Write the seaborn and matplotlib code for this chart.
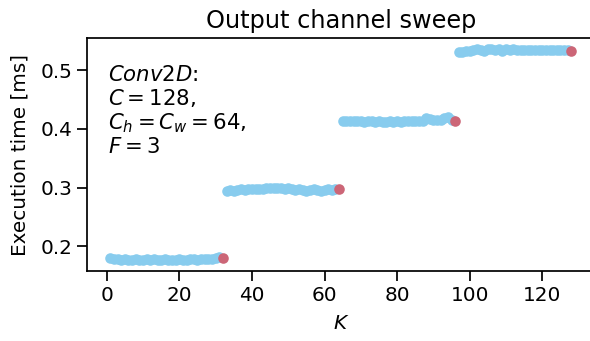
import matplotlib
matplotlib.use("Agg")
import matplotlib.pyplot as plt
import seaborn as sns
import numpy as np
import pandas as pd

K = list(range(1, 129))
time_g1 = [0.180, 0.179, 0.178, 0.177, 0.178, 0.176, 0.177, 0.178, 0.177, 0.176,
           0.178, 0.177, 0.178, 0.177, 0.176, 0.178, 0.177, 0.176, 0.177, 0.178,
           0.177, 0.176, 0.178, 0.179, 0.177, 0.178, 0.179, 0.178, 0.179, 0.180,
           0.181, 0.180]
time_g2 = [0.295, 0.296, 0.295, 0.296, 0.297, 0.296, 0.297, 0.298, 0.297, 0.298,
           0.297, 0.299, 0.300, 0.299, 0.300, 0.299, 0.298, 0.299, 0.297, 0.296,
           0.297, 0.296, 0.295, 0.296, 0.297, 0.296, 0.295, 0.296, 0.297, 0.296,
           0.297, 0.298]
time_g3 = [0.413, 0.414, 0.413, 0.414, 0.413, 0.413, 0.412, 0.413, 0.413, 0.412,
           0.413, 0.412, 0.412, 0.413, 0.412, 0.413, 0.412, 0.413, 0.413, 0.414,
           0.413, 0.414, 0.414, 0.419, 0.417, 0.416, 0.415, 0.416, 0.418, 0.420,
           0.416, 0.414]
time_g4 = [0.532, 0.532, 0.533, 0.533, 0.534, 0.536, 0.534, 0.533, 0.536, 0.537,
           0.534, 0.536, 0.533, 0.537, 0.535, 0.536, 0.534, 0.535, 0.534, 0.534,
           0.534, 0.535, 0.534, 0.534, 0.535, 0.534, 0.534, 0.534, 0.535, 0.534,
           0.534, 0.533]
times = time_g1 + time_g2 + time_g3 + time_g4
highlight_K = [32, 64, 96, 128]

df = pd.DataFrame({"K": K, "time": times})
df["hl"] = df["K"].isin(highlight_K)

sns.set_style("ticks", {"axes.edgecolor": "black", "text.color": "black",
                        "axes.labelcolor": "black", "xtick.color": "black",
                        "ytick.color": "black"})
plt.rcParams["font.family"] = ["DejaVu Sans"]
plt.rcParams["mathtext.fontset"] = "dejavusans"

fig = plt.figure(figsize=(5.9, 3.41), dpi=100)
ax = fig.add_axes([87.3/590, 1 - 271/341, (594.4-87.3)/590, (271-38)/341])

sns.scatterplot(data=df[~df["hl"]], x="K", y="time", color="#88CCEE", s=58,
                linewidth=0, ax=ax, zorder=2)
sns.scatterplot(data=df[df["hl"]], x="K", y="time", color="#CC6677", s=58,
                linewidth=0, ax=ax, zorder=3)

ax.set_xticks([0, 20, 40, 60, 80, 100, 120])
ax.set_yticks([0.2, 0.3, 0.4, 0.5])
ax.tick_params(labelsize=14.4, length=7, width=1.25, pad=3.5)
for sp in ax.spines.values():
    sp.set_linewidth(1.25)
ax.set_xlabel("$K$", fontsize=14.4, labelpad=7)
ax.set_ylabel("Execution time [ms]", fontsize=14.4, labelpad=8)
ax.set_title("Output channel sweep", fontsize=17.3, pad=7)
ax.text(0.041, 0.885, "$\\it{Conv2D}$:\n$C = 128$,\n$C_h = C_w = 64$,\n$F = 3$",
        transform=ax.transAxes, fontsize=15.3, va="top", ha="left", linespacing=1.12)

fig.savefig("out.png", dpi=100)
